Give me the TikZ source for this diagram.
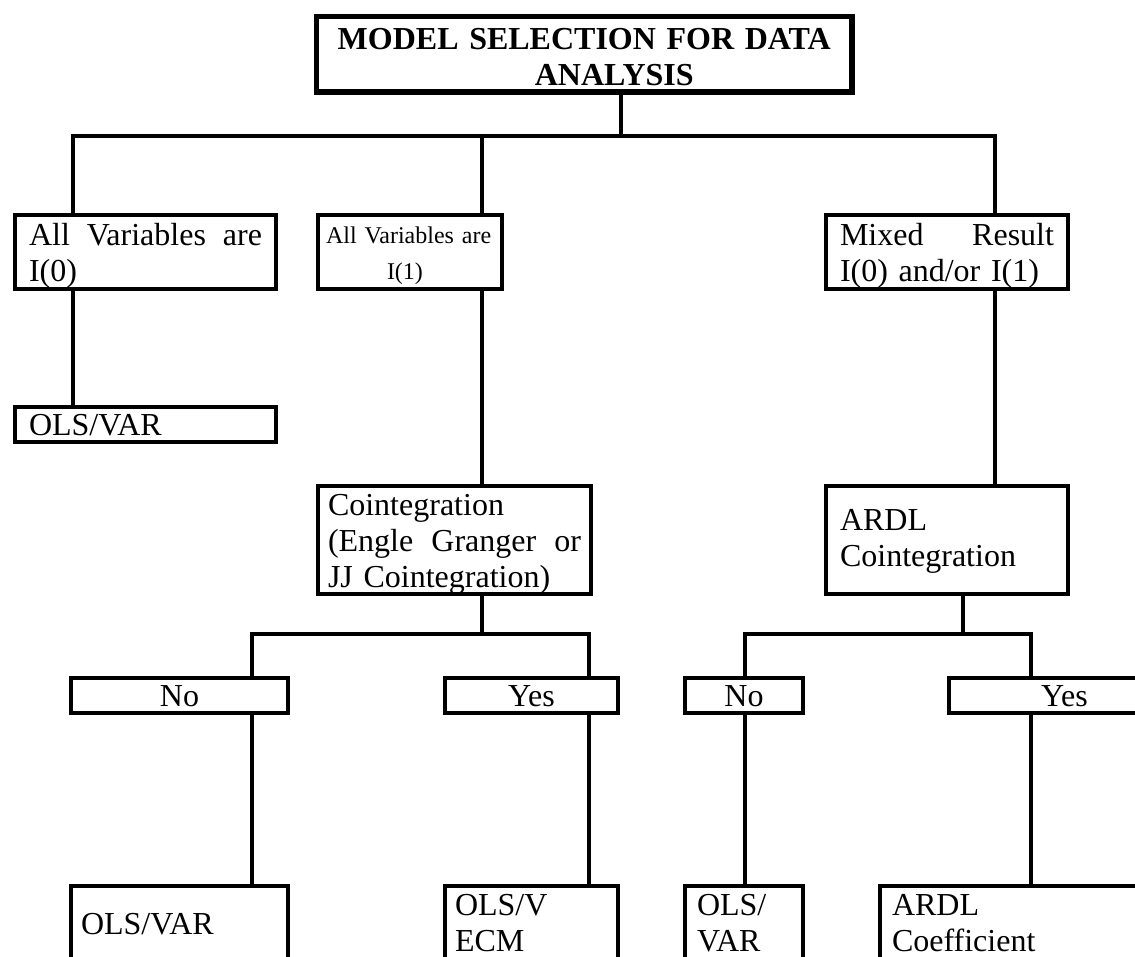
\documentclass[tikz,border=0pt]{standalone}
\usepackage{fontspec}
\setmainfont{Liberation Serif}
\begin{document}
\begin{tikzpicture}[x=1pt,y=-1pt,
  box/.style={draw, line width=4pt, rectangle, inner ysep=0pt, anchor=north west,
    align=left, font=\fontsize{32}{36}\selectfont},
  cbox/.style={box, align=center},
  conn/.style={line width=4pt, line join=miter}]
\useasboundingbox (0,0) rectangle (1135,956);
\clip (0,0) rectangle (1135,956);
% title
\node[cbox, line width=5.5pt, inner xsep=10pt, text width=515.5pt, text height=33.25pt, text depth=42.25pt,
  font=\fontsize{32}{36}\selectfont\bfseries] (title) at (313.75,13.75)
  {MODEL SELECTION FOR DATA\\\hspace*{60pt}ANALYSIS};
% row 1
\node[box, inner xsep=14pt, text width=233pt, text height=30pt, text depth=44pt] (b1) at (13,213)
  {\makebox[233pt]{All\hfill Variables\hfill are}\\I(0)};
\node[box, inner xsep=8pt, text width=168pt, text height=28pt, text depth=46pt,
  font=\fontsize{24}{36}\selectfont] (b2) at (316,213)
  {All Variables are\\\hspace*{61pt}I(1)};
\node[box, inner xsep=14pt, text width=214pt, text height=30pt, text depth=44pt] (b3) at (824,213)
  {\makebox[214pt]{Mixed\hfill Result}\\I(0) and/or I(1)};
% row 2
\node[box, inner xsep=14pt, text width=233pt, text height=28pt, text depth=7pt] (ols1) at (13,405) {OLS/VAR};
% row 3
\node[box, inner xsep=10pt, text width=253pt, text height=29pt, text depth=79pt] (coint) at (316,484)
  {Cointegration\\\makebox[253pt]{(Engle\hfill Granger\hfill or}\\JJ Cointegration)};
\node[box, inner xsep=14pt, text width=214pt, text height=44pt, text depth=64pt] (ardl) at (824,484)
  {ARDL\\Cointegration};
% row 4
\node[cbox, inner xsep=10pt, text width=197pt, text height=28pt, text depth=7pt] (no1) at (69,676) {No};
\node[cbox, inner xsep=10pt, text width=153pt, text height=28pt, text depth=7pt] (yes1) at (443,676) {Yes};
\node[cbox, inner xsep=10pt, text width=98pt, text height=28pt, text depth=7pt] (no2) at (683,676) {No};
\node[cbox, inner xsep=10pt, text width=211pt, text height=28pt, text depth=7pt] (yes2) at (947,676) {Yes};
% row 5
\node[box, inner xsep=10pt, text width=197pt, text height=48pt, text depth=68pt] (ols2) at (69,884) {OLS/VAR};
\node[box, inner xsep=10pt, text width=153pt, text height=29pt, text depth=87pt] (olsv) at (443,884) {OLS/V\\ECM};
\node[box, inner xsep=12pt, text width=94pt, text height=29pt, text depth=87pt] (ols3) at (683,884) {OLS/\\VAR};
\node[box, inner xsep=12pt, text width=276pt, text height=29pt, text depth=87pt] (ardlc) at (878,884) {ARDL\\Coefficient};
% junctions
\coordinate (h1T) at (621,136);
\coordinate (h1L) at (73,136);
\coordinate (h1M) at (482,136);
\coordinate (h1R) at (995,136);
\coordinate (h2L) at (252,634);
\coordinate (h2M) at (482,634);
\coordinate (h2R) at (589,634);
\coordinate (h3L) at (745,634);
\coordinate (h3M) at (963,634);
\coordinate (h3R) at (1031,634);
% connectors
\draw[conn] (title.south -| h1T) -- (h1T);
\draw[conn] (b1.north -| h1L) |- (h1R) -- (b3.north -| h1R);
\draw[conn] (h1M) -- (b2.north -| h1M);
\draw[conn] (b1.south -| h1L) -- (ols1.north -| h1L);
\draw[conn] (b2.south -| h1M) -- (coint.north -| h1M);
\draw[conn] (b3.south -| h1R) -- (ardl.north -| h1R);
\draw[conn] (coint.south -| h2M) -- (h2M);
\draw[conn] (no1.north -| h2L) |- (h2R) -- (yes1.north -| h2R);
\draw[conn] (no1.south -| h2L) -- (ols2.north -| h2L);
\draw[conn] (yes1.south -| h2R) -- (olsv.north -| h2R);
\draw[conn] (ardl.south -| h3M) -- (h3M);
\draw[conn] (no2.north -| h3L) |- (h3R) -- (yes2.north -| h3R);
\draw[conn] (no2.south -| h3L) -- (ols3.north -| h3L);
\draw[conn] (yes2.south -| h3R) -- (ardlc.north -| h3R);
\end{tikzpicture}
\end{document}
